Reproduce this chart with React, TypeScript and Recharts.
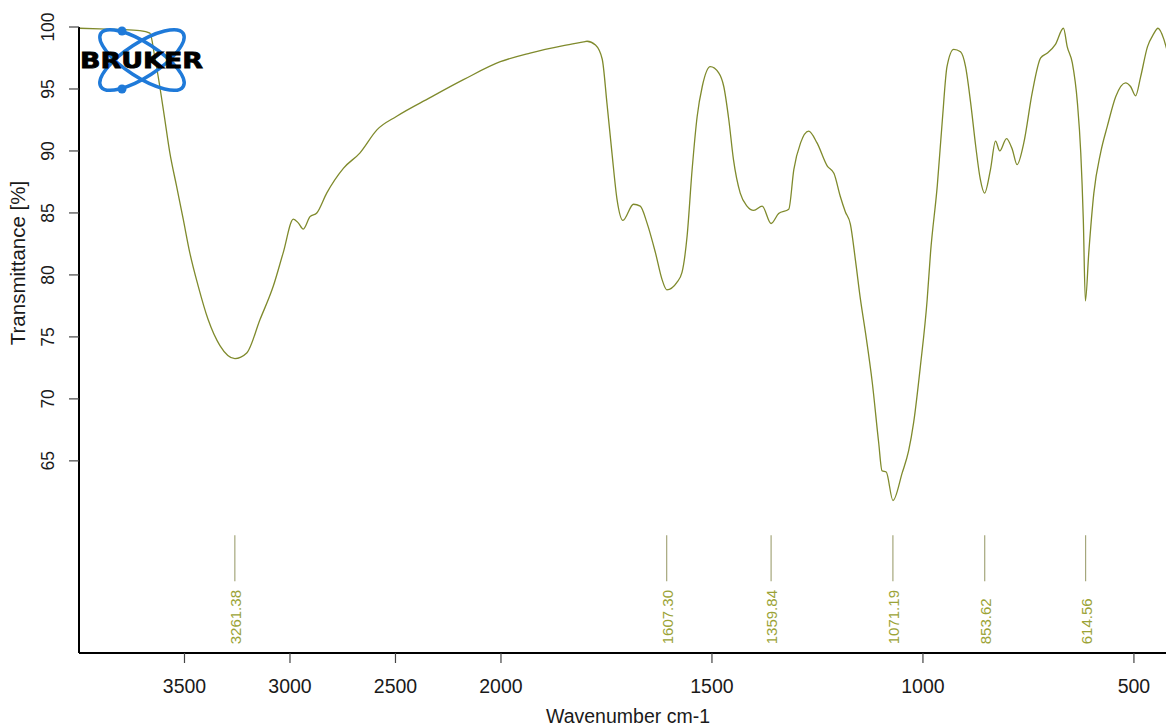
import {
  ComposedChart,
  Line,
  Scatter,
  XAxis,
  YAxis,
} from "recharts";

// wavenumbers (cm-1) from left to right
const WAVENUMBER = [
  4000, 3902, 3807, 3712, 3664, 3641, 3617, 3593, 3570, 3538,
  3506, 3475, 3435, 3388, 3332, 3261, 3205, 3142, 3079, 3032,
  2984, 2961, 2937, 2905, 2873, 2826, 2747, 2668, 2588, 2494,
  2336, 2178, 2003, 1931, 1852, 1804, 1796, 1776, 1760, 1749,
  1737, 1725, 1711, 1686, 1670, 1654, 1634, 1618, 1607, 1583,
  1571, 1559, 1547, 1535, 1523, 1504, 1484, 1472, 1460, 1449,
  1433, 1417, 1401, 1381, 1360, 1342, 1318, 1306, 1290, 1271,
  1251, 1227, 1211, 1196, 1184, 1172, 1160, 1148, 1136, 1120,
  1105, 1097, 1087, 1071, 1049, 1034, 1022, 1006, 990, 982,
  966, 954, 943, 927, 911, 899, 887, 875, 864, 854,
  840, 828, 818, 802, 788, 777, 761, 741, 721, 705,
  686, 667, 658, 646, 634, 626, 620, 615, 607, 595,
  579, 563, 543, 520, 508, 496, 484, 468, 454, 443,
  429, 423, 410,
];

// transmittance (%)
const TRANSMITTANCE = [
  99.9, 99.85, 99.8, 99.7, 99.5, 97.6, 95.2, 92.5, 89.9, 87.2,
  84.5, 81.8, 79.1, 76.4, 74.3, 73.25, 73.7, 76.4, 79.1, 81.8,
  84.5, 84.2, 83.7, 84.7, 85.0, 86.6, 88.6, 89.85, 91.7, 92.8,
  94.3, 95.75, 97.2, 97.9, 98.5, 98.8, 98.85, 98.55, 97.4, 93.9,
  89.85, 86.1, 84.4, 85.7, 85.55, 84.2, 81.8, 79.6, 78.8, 79.4,
  80.2, 83.1, 88.5, 92.8, 95.2, 96.8, 96.3, 95.2, 92.5, 89.3,
  86.6, 85.55, 85.2, 85.55, 84.15, 84.95, 85.3, 88.5, 90.65, 91.6,
  90.65, 88.8, 88.2, 86.35, 85.1, 84.1, 81.2, 78.0, 75.3, 71.3,
  66.5, 64.2, 64.1, 61.8, 64.05, 65.8, 68.1, 72.65, 78.0, 81.8,
  87.2, 92.5, 96.8, 98.2, 98.0, 96.8, 93.9, 90.4, 87.7, 86.6,
  88.5, 90.8, 90.0, 91.0, 90.1, 88.9, 90.65, 94.7, 97.5, 97.9,
  98.6, 99.9, 98.4, 97.1, 93.9, 89.85, 84.5, 77.9, 81.8, 86.6,
  89.85, 92.0, 94.4, 95.5, 95.2, 94.45, 96.0, 98.4, 99.4, 99.9,
  99.0, 98.3, 97.0,
];

const PEAKS = [3261.38, 1607.3, 1359.84, 1071.19, 853.62, 614.56];

const X_TICKS = [3500, 3000, 2500, 2000, 1500, 1000, 500];
const Y_TICKS = [65, 70, 75, 80, 85, 90, 95, 100];

// OPUS style axis: above 2000 cm-1 the scale is squeezed by half
const toAxis = (w: number) => (w > 2000 ? 2000 + (w - 2000) / 2 : w);
const fromAxis = (u: number) => (u > 2000 ? 2000 + (u - 2000) * 2 : u);

const spectrum = WAVENUMBER.map((w, i) => ({ w, t: TRANSMITTANCE[i] }));
const peakMarks = PEAKS.map((w) => ({ w, t: 59 }));

const FONT = "'Liberation Sans', Arial, sans-serif";
const CURVE = "#7f8a2c";

const XTick = (props: any) => {
  const { x, y, payload } = props;
  return (
    <text x={x} y={y + 28} textAnchor="middle" fontSize={19.5} fontFamily={FONT} fill="#1a1a1a">
      {Math.round(fromAxis(payload.value))}
    </text>
  );
};

const YTick = (props: any) => {
  const { x, y, payload } = props;
  const tx = x - 13;
  return (
    <text
      x={tx}
      y={y}
      transform={`rotate(-90 ${tx} ${y})`}
      textAnchor="middle"
      fontSize={17.5}
      fontFamily={FONT}
      fill="#1a1a1a"
    >
      {payload.value}
    </text>
  );
};

const PeakMark = (props: any) => {
  const { cx, cy, payload } = props;
  const tx = cx + 6;
  const ty = cy + 109;
  return (
    <g>
      <line x1={cx} y1={cy} x2={cx} y2={cy + 46} stroke="#a5a77c" strokeWidth={1.2} />
      <text
        x={tx}
        y={ty}
        transform={`rotate(-90 ${tx} ${ty})`}
        fontSize={15}
        fontFamily={FONT}
        fill="#9ba336"
      >
        {payload.w.toFixed(2)}
      </text>
    </g>
  );
};

function Logo() {
  return (
    <svg
      width={1166}
      height={727}
      style={{ position: "absolute", left: 0, top: 0, pointerEvents: "none" }}
    >
      <g fill="none" stroke="#1f7ad9" strokeWidth={3.5}>
        <ellipse cx={142} cy={60} rx={49} ry={17} transform="rotate(33 142 60)" />
        <ellipse cx={142} cy={60} rx={49} ry={17} transform="rotate(-33 142 60)" />
      </g>
      <circle cx={122} cy={31} r={4.5} fill="#1f7ad9" />
      <circle cx={122} cy={89} r={4.5} fill="#1f7ad9" />
      <text
        x={80}
        y={68}
        fontSize={22}
        fontWeight={900}
        fontFamily="'DejaVu Sans', sans-serif"
        textLength={123}
        lengthAdjust="spacingAndGlyphs"
        fill="#000"
        stroke="#000"
        strokeWidth={0.8}
      >
        BRUKER
      </text>
      <text
        x={25}
        y={263}
        transform="rotate(-90 25 263)"
        textAnchor="middle"
        fontSize={20.5}
        fontFamily={FONT}
        fill="#1a1a1a"
      >
        Transmittance [%]
      </text>
      <text x={628} y={723} textAnchor="middle" fontSize={19.5} fontFamily={FONT} fill="#1a1a1a">
        Wavenumber cm-1
      </text>
    </svg>
  );
}

export default function App() {
  return (
    <div
      style={{
        position: "absolute",
        left: 0,
        top: 0,
        width: 1166,
        height: 727,
        overflow: "hidden",
        background: "#fff",
      }}
    >
      <ComposedChart
        width={1166}
        height={727}
        data={spectrum}
        margin={{ top: 27, right: 0, bottom: 0, left: 0 }}
      >
        <XAxis
          dataKey={(d: any) => toAxis(d.w)}
          type="number"
          domain={[424, 3000]}
          reversed
          allowDataOverflow
          ticks={X_TICKS.map(toAxis)}
          tick={<XTick />}
          tickSize={10}
          height={74}
          axisLine={{ stroke: "#000", strokeWidth: 2 }}
          tickLine={{ stroke: "#444", strokeWidth: 1.2 }}
        />
        <XAxis
          xAxisId="top"
          orientation="top"
          dataKey={(d: any) => toAxis(d.w)}
          type="number"
          domain={[424, 3000]}
          reversed
          allowDataOverflow
          height={0}
          tick={false}
          tickLine={false}
          axisLine={{ stroke: "#000", strokeWidth: 2 }}
        />
        <YAxis
          type="number"
          domain={[49.5, 100]}
          allowDataOverflow
          ticks={Y_TICKS}
          tick={<YTick />}
          tickSize={10}
          width={79}
          axisLine={{ stroke: "#000", strokeWidth: 2 }}
          tickLine={{ stroke: "#444", strokeWidth: 1.2 }}
        />
        <Line
          dataKey="t"
          type="monotone"
          stroke={CURVE}
          strokeWidth={1.3}
          dot={false}
          isAnimationActive={false}
        />
        <Scatter data={peakMarks} dataKey="t" shape={<PeakMark />} isAnimationActive={false} />
      </ComposedChart>
      <Logo />
    </div>
  );
}
